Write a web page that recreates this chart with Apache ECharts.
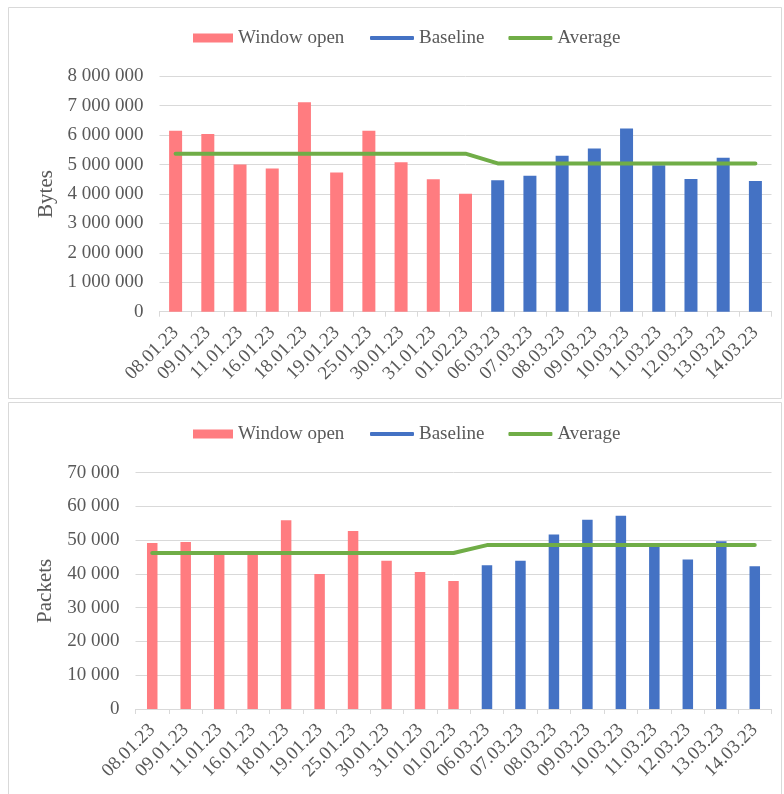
<!DOCTYPE html>
<html>
<head>
<meta charset="utf-8">
<title>Bytes and packets per day</title>
<script src="https://cdn.jsdelivr.net/npm/echarts@6/dist/echarts.min.js"></script>
<style>
  html, body { margin: 0; padding: 0; background: #fff; }
  #chart { width: 784px; height: 794px; }
</style>
</head>
<body>
<div id="chart"></div>
<script>
// Measurement days: ten with the window open, nine baseline days
const dates = ['08.01.23', '09.01.23', '11.01.23', '16.01.23', '18.01.23', '19.01.23', '25.01.23',
  '30.01.23', '31.01.23', '01.02.23', '06.03.23', '07.03.23', '08.03.23', '09.03.23', '10.03.23',
  '11.03.23', '12.03.23', '13.03.23', '14.03.23'];

// Bytes per day
const bytesWindowOpen = [6150000, 6040000, 5000000, 4870000, 7120000, 4730000, 6150000, 5080000, 4500000, 4010000];
const bytesBaseline = [4470000, 4620000, 5300000, 5550000, 6230000, 4980000, 4510000, 5230000, 4440000];
const bytesAverage = [5370000, 5370000, 5370000, 5370000, 5370000, 5370000, 5370000, 5370000, 5370000, 5370000,
  5040000, 5040000, 5040000, 5040000, 5040000, 5040000, 5040000, 5040000, 5040000];

// Packets per day
const packetsWindowOpen = [49200, 49500, 46000, 46000, 55950, 40000, 52700, 43950, 40600, 37900];
const packetsBaseline = [42600, 43950, 51700, 56050, 57250, 48300, 44250, 49700, 42300];
const packetsAverage = [46200, 46200, 46200, 46200, 46200, 46200, 46200, 46200, 46200, 46200,
  48550, 48550, 48550, 48550, 48550, 48550, 48550, 48550, 48550];

// Y axis ticks
const bytesTicks = { min: 0, max: 8000000, interval: 1000000 };
const packetsTicks = { min: 0, max: 70000, interval: 10000 };

const RED = '#FF7C80';
const BLUE = '#4472C4';
const GREEN = '#70AD47';
const TEXT = '#595959';
const GRID = '#D9D9D9';
const FONT = "'Liberation Serif', 'Times New Roman', serif";

const windowCount = bytesWindowOpen.length;
const pad = (arr, before, after) =>
  Array(before).fill(null).concat(arr, Array(after).fill(null));

const spaced = v => String(v).replace(/\B(?=(\d{3})+(?!\d))/g, ' ');

function xAxis(gridIndex) {
  return {
    type: 'category', gridIndex, data: dates, boundaryGap: true,
    axisLine: { show: true, lineStyle: { color: GRID, width: 1 } },
    axisTick: { show: true, length: 5, lineStyle: { color: GRID } },
    axisLabel: { interval: 0, rotate: 45, margin: 18, color: TEXT, fontFamily: FONT, fontSize: 19 },
    splitLine: { show: false }
  };
}

function yAxis(gridIndex, ticks, name, nameGap) {
  return {
    type: 'value', gridIndex, min: ticks.min, max: ticks.max, interval: ticks.interval,
    name, nameLocation: 'middle', nameRotate: 90, nameGap,
    nameTextStyle: { color: TEXT, fontFamily: FONT, fontSize: 21 },
    axisLine: { show: false }, axisTick: { show: false },
    axisLabel: { color: TEXT, fontFamily: FONT, fontSize: 19, margin: 16, formatter: spaced },
    splitLine: { lineStyle: { color: GRID, width: 1 } }
  };
}

function legends(top) {
  const textStyle = { color: TEXT, fontFamily: FONT, fontSize: 19 };
  return [
    { left: 193, top, padding: 0, itemWidth: 40, itemHeight: 9, itemGap: 24, icon: 'rect',
      data: ['Window open'], textStyle, selectedMode: false },
    { left: 370, top, padding: 0, itemWidth: 44, itemHeight: 4, itemGap: 24, icon: 'roundRect',
      data: ['Baseline', 'Average'], textStyle, selectedMode: false }
  ];
}

function seriesFor(idx, windowVals, baseVals, avgVals, barWidth) {
  const total = dates.length;
  return [
    { type: 'bar', name: 'Window open', xAxisIndex: idx, yAxisIndex: idx, barWidth, barGap: '-100%',
      itemStyle: { color: RED }, data: pad(windowVals, 0, total - windowCount) },
    { type: 'bar', name: 'Baseline', xAxisIndex: idx, yAxisIndex: idx, barWidth, barGap: '-100%',
      itemStyle: { color: BLUE }, data: pad(baseVals, windowCount, 0) },
    { type: 'line', name: 'Average', xAxisIndex: idx, yAxisIndex: idx, showSymbol: false, symbol: 'none',
      lineStyle: { color: GREEN, width: 4, cap: 'round', join: 'round' }, itemStyle: { color: GREEN },
      z: 5, data: avgVals }
  ];
}

const chart = echarts.init(document.getElementById('chart'), null, { renderer: 'canvas' });
chart.setOption({
  animation: false,
  backgroundColor: '#ffffff',
  graphic: [
    { type: 'rect', shape: { x: 8.5, y: 7.5, width: 773, height: 391 },
      style: { fill: 'none', stroke: GRID, lineWidth: 1 }, z: -1 },
    { type: 'rect', shape: { x: 8.5, y: 402.5, width: 773, height: 400 },
      style: { fill: 'none', stroke: GRID, lineWidth: 1 }, z: -1 }
  ],
  legend: legends(28.5).concat(legends(424.5)),
  grid: [
    { left: 159.5, top: 76.3, width: 612, height: 235.4, containLabel: false },
    { left: 135.5, top: 472.7, width: 636, height: 236.3, containLabel: false }
  ],
  xAxis: [xAxis(0), xAxis(1)],
  yAxis: [yAxis(0, bytesTicks, 'Bytes', 98), yAxis(1, packetsTicks, 'Packets', 74)],
  series: seriesFor(0, bytesWindowOpen, bytesBaseline, bytesAverage, 13)
    .concat(seriesFor(1, packetsWindowOpen, packetsBaseline, packetsAverage, 10.5))
});
</script>
</body>
</html>
